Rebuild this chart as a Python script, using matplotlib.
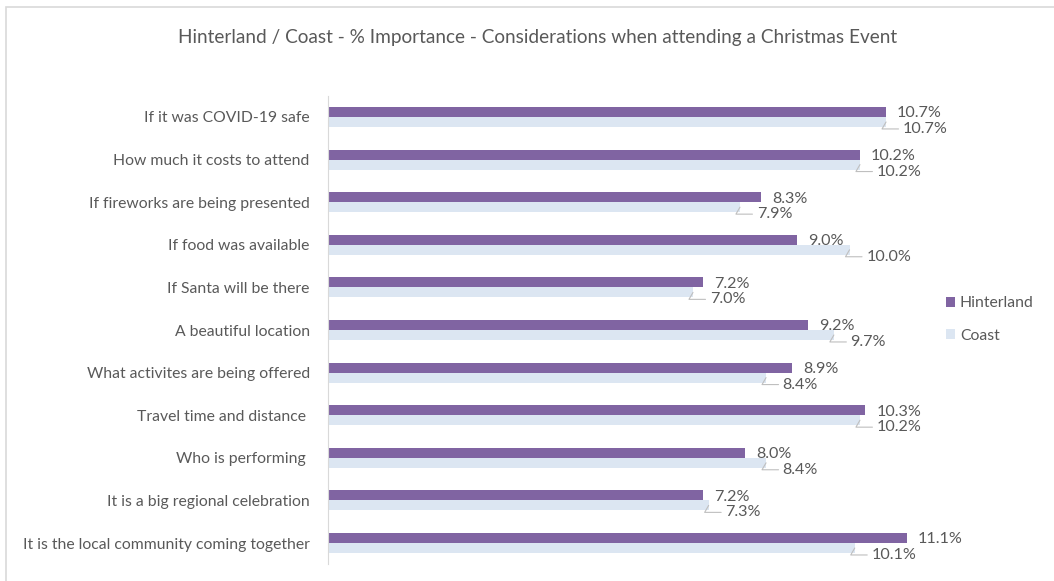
import matplotlib.pyplot as plt
import matplotlib.patches as patches
import numpy as np

plt.rcParams['font.family'] = ['Lato', 'DejaVu Sans']

categories = ["If it was COVID-19 safe",
              "How much it costs to attend",
              "If fireworks are being presented",
              "If food was available",
              "If Santa will be there",
              "A beautiful location",
              "What activites are being offered",
              "Travel time and distance ",
              "Who is performing ",
              "It is a big regional celebration",
              "It is the local community coming together"]
hinterland = [10.7, 10.2, 8.3, 9.0, 7.2, 9.2, 8.9, 10.3, 8.0, 7.2, 11.1]
coast = [10.7, 10.2, 7.9, 10.0, 7.0, 9.7, 8.4, 10.2, 8.4, 7.3, 10.1]

purple = "#8064A2"
light = "#DCE6F2"
grey = "#595959"

fig = plt.figure(figsize=(10.54, 5.81), dpi=100)
ax = fig.add_axes([0.311, 0.0287, 0.594, 0.8066])

y = np.arange(len(categories))
h = 0.235
ax.barh(y - h / 2, hinterland, height=h, color=purple, label="Hinterland")
ax.barh(y + h / 2, coast, height=h, color=light, label="Coast")

ax.set_ylim(len(categories) - 0.5, -0.5)
ax.set_xlim(0, 12)
ax.set_yticks(y)
ax.set_yticklabels(categories, fontsize=11.3, color=grey)
ax.tick_params(axis='y', length=0, pad=13)
ax.set_xticks([])
for s in ['top', 'right', 'bottom']:
    ax.spines[s].set_visible(False)
ax.spines['left'].set_color("#D9D9D9")

for i in range(len(categories)):
    ax.annotate(f"{hinterland[i]:.1f}%", (hinterland[i], i - h / 2),
                xytext=(8, -1), textcoords='offset points',
                ha='left', va='center', fontsize=11.6, color=grey)
    ax.annotate(f"{coast[i]:.1f}%", (coast[i], i + h / 2),
                xytext=(12, -5), textcoords='offset points',
                ha='left', va='center', fontsize=11.6, color=grey,
                arrowprops=dict(arrowstyle='-', color="#BFBFBF", lw=0.8,
                                shrinkA=1, shrinkB=0,
                                connectionstyle="angle,angleA=0,angleB=60,rad=0"))

leg = ax.legend(loc='center left', bbox_to_anchor=(0.884, 0.45),
                bbox_transform=fig.transFigure, frameon=False,
                handlelength=0.6, handleheight=0.6, handletextpad=0.3,
                labelspacing=1.2, fontsize=11.3)
for t in leg.get_texts():
    t.set_color(grey)

fig.text(0.51, 0.935, "Hinterland / Coast - % Importance - Considerations when attending a Christmas Event",
         ha='center', va='center', fontsize=13.7, color=grey)

fig.patches.append(patches.Rectangle((0.006, -0.01), 1.0, 0.998, transform=fig.transFigure,
                                     fill=False, edgecolor="#D9D9D9", lw=1.2))

fig.savefig("out.png", dpi=100)
